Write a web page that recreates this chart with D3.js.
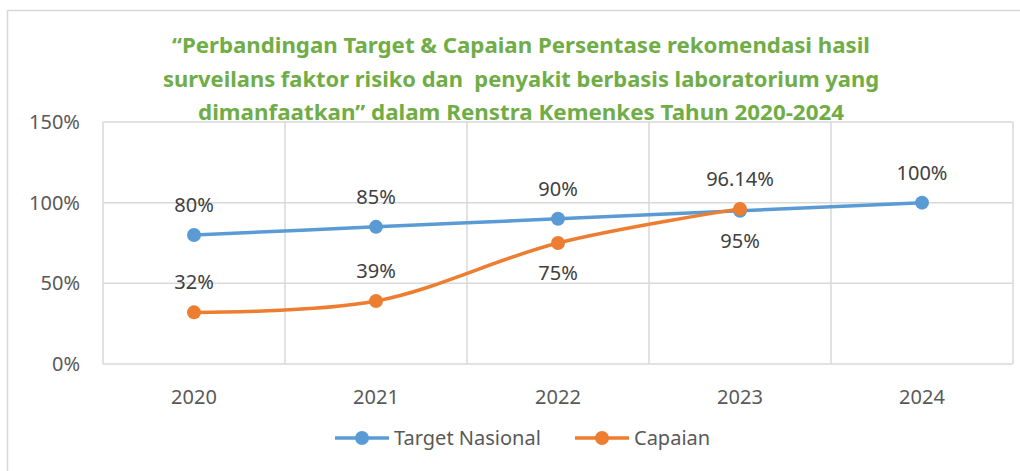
<!DOCTYPE html>
<html>
<head>
<meta charset="utf-8">
<script src="https://cdn.jsdelivr.net/npm/d3@7"></script>
<style>
  body { margin: 0; background: #fff; }
  text { font-family: "Noto Sans", "Open Sans", sans-serif; }
</style>
</head>
<body>
<div id="chart"></div>
<script>
// data
var years    = ["2020", "2021", "2022", "2023", "2024"];
var target   = [80, 85, 90, 95, 100];
var capaian  = [32, 39, 75, 96.14, null];
var targetLabels  = ["80%", "85%", "90%", "95%", "100%"];
var capaianLabels = ["32%", "39%", "75%", "96.14%", ""];
var targetPos  = ["above", "above", "above", "below", "above"];
var capaianPos = ["above", "above", "below", "above", "above"];
var yTicks   = [0, 50, 100, 150];
var titleLines = [
  "\u201cPerbandingan Target & Capaian Persentase rekomendasi hasil",
  "surveilans faktor risiko dan  penyakit berbasis laboratorium yang",
  "dimanfaatkan\u201d dalam Renstra Kemenkes Tahun 2020-2024"
];
var titleWidths = [698, 716, 646];

var W = 1020, H = 471;
var pLeft = 103, pRight = 1013, pTop = 122, pBottom = 364;
var blue = "#5B9BD5", orange = "#ED7D31", grid = "#D9D9D9", txt = "#595959";

var svg = d3.select("#chart").append("svg")
    .attr("width", W)
    .attr("height", H);

// outer chart border
svg.append("rect")
    .attr("x", 7.5).attr("y", 10.5)
    .attr("width", 1030).attr("height", 480)
    .style("fill", "none")
    .style("stroke", grid)
    .style("stroke-width", 1.5);

var x = d3.scaleBand().domain(years).range([pLeft, pRight]);
var y = d3.scaleLinear().domain([0, 150]).range([pBottom, pTop]);
var cx = function(i) { return x(years[i]) + x.bandwidth() / 2; };

// horizontal grid
svg.append("g").selectAll("line")
    .data(yTicks)
    .enter().append("line")
    .attr("x1", pLeft).attr("x2", pRight)
    .attr("y1", function(d) { return y(d); })
    .attr("y2", function(d) { return y(d); })
    .style("stroke", grid).style("stroke-width", 1.5);

// vertical grid (category boundaries)
var bounds = years.map(function(d) { return x(d); }).concat([pRight]);
svg.append("g").selectAll("line")
    .data(bounds)
    .enter().append("line")
    .attr("x1", function(d) { return d; })
    .attr("x2", function(d) { return d; })
    .attr("y1", pTop).attr("y2", pBottom)
    .style("stroke", grid).style("stroke-width", 1.5);

// y tick labels
svg.append("g").selectAll("text")
    .data(yTicks)
    .enter().append("text")
    .attr("x", 80)
    .attr("y", function(d) { return y(d) + 7; })
    .attr("text-anchor", "end")
    .style("font-size", "20px")
    .style("fill", txt)
    .text(function(d) { return d + "%"; });

// x tick labels
svg.append("g").selectAll("text")
    .data(years)
    .enter().append("text")
    .attr("x", function(d, i) { return cx(i); })
    .attr("y", 404)
    .attr("text-anchor", "middle")
    .style("font-size", "20px")
    .style("fill", txt)
    .text(function(d) { return d; });

// title
svg.append("g").selectAll("text")
    .data(titleLines)
    .enter().append("text")
    .attr("x", 521)
    .attr("y", function(d, i) { return 53 + i * 33.5; })
    .attr("text-anchor", "middle")
    .attr("textLength", function(d, i) { return titleWidths[i]; })
    .attr("lengthAdjust", "spacingAndGlyphs")
    .style("font-size", "21px")
    .style("font-weight", "bold")
    .style("fill", "#70AD47")
    .style("white-space", "pre")
    .text(function(d) { return d; });

function drawSeries(vals, color, curve) {
  var pts = vals.map(function(v, i) { return [i, v]; })
      .filter(function(p) { return p[1] !== null; });
  var line = d3.line()
      .x(function(p) { return cx(p[0]); })
      .y(function(p) { return y(p[1]); })
      .curve(curve);
  svg.append("path")
      .datum(pts)
      .attr("d", line)
      .style("fill", "none")
      .style("stroke", color)
      .style("stroke-width", 3.5);
  svg.append("g").selectAll("circle")
      .data(pts)
      .enter().append("circle")
      .attr("cx", function(p) { return cx(p[0]); })
      .attr("cy", function(p) { return y(p[1]); })
      .attr("r", 7)
      .style("fill", color);
}

function drawLabels(vals, labels, pos) {
  svg.append("g").selectAll("text")
      .data(vals)
      .enter().append("text")
      .filter(function(d) { return d !== null; })
      .attr("x", function(d, i) { return cx(i); })
      .attr("y", function(d, i) {
        return pos[i] === "above" ? y(d) - 23 : y(d) + 37;
      })
      .attr("text-anchor", "middle")
      .style("font-size", "20px")
      .style("fill", "#404040")
      .text(function(d, i) { return labels[i]; });
}

drawSeries(target, blue, d3.curveCardinal.tension(0));
drawSeries(capaian, orange, d3.curveCardinal.tension(0));
drawLabels(target, targetLabels, targetPos);
drawLabels(capaian, capaianLabels, capaianPos);

// legend
var legend = [
  { name: "Target Nasional", color: blue, x: 335 },
  { name: "Capaian", color: orange, x: 575 }
];
var lg = svg.append("g").selectAll("g")
    .data(legend)
    .enter().append("g");
lg.append("line")
    .attr("x1", function(d) { return d.x; })
    .attr("x2", function(d) { return d.x + 54; })
    .attr("y1", 438).attr("y2", 438)
    .style("stroke", function(d) { return d.color; })
    .style("stroke-width", 3.5);
lg.append("circle")
    .attr("cx", function(d) { return d.x + 27; })
    .attr("cy", 438)
    .attr("r", 7)
    .style("fill", function(d) { return d.color; });
lg.append("text")
    .attr("x", function(d) { return d.x + 59; })
    .attr("y", 445)
    .style("font-size", "20px")
    .style("fill", txt)
    .text(function(d) { return d.name; });
</script>
</body>
</html>
